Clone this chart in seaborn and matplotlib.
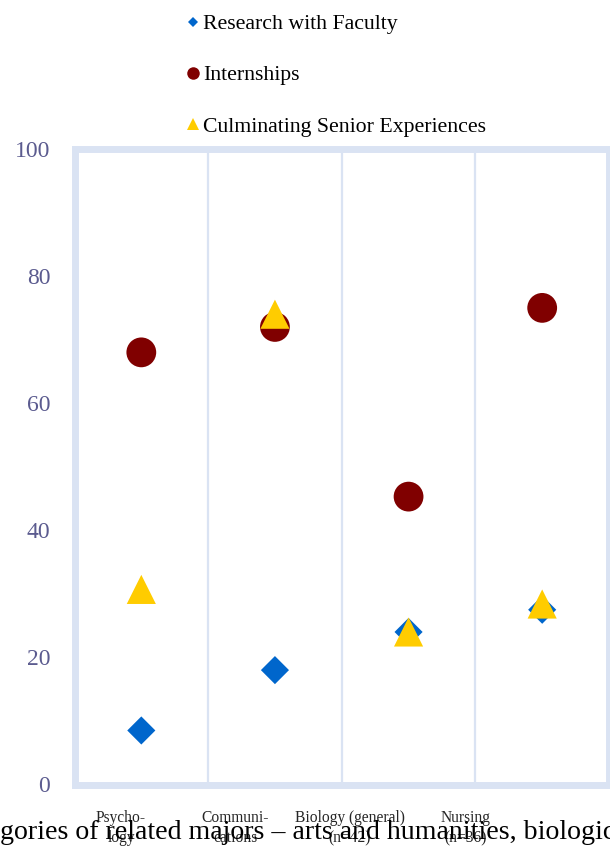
import matplotlib
matplotlib.use("Agg")
import matplotlib.pyplot as plt
from matplotlib.lines import Line2D
import seaborn as sns
import pandas as pd

# Share of students (%) taking part in each experience, by major
majors = ["Psycho-\nlogy", "Communi-\ncations", "Biology (general)\n(n=42)", "Nursing\n(n=36)"]
research = [8.5, 18, 24, 27.5]
internships = [68, 72, 45.3, 75]
senior = [30.7, 74, 24, 28.4]
series_names = ["Research with Faculty", "Internships", "Culminating Senior Experiences"]
y_ticks = [0, 20, 40, 60, 80, 100]

sns.set_theme(style="white")
plt.rcParams["font.family"] = ["Liberation Serif", "DejaVu Serif"]

frame_col = "#dae3f3"
colors = ["#0066cc", "#800000", "#ffcc00"]
markers = ["D", "o", "^"]
sizes = [205, 460, 440]

fig = plt.figure(figsize=(6.10, 8.48), dpi=100)
ax = fig.add_axes([74.5 / 610, (848 - 784.5) / 848, (609 - 74.5) / 610, (784.5 - 149) / 848])

df = pd.DataFrame({"major": majors * 3,
                   "value": research + internships + senior,
                   "series": [s for s in series_names for _ in majors]})

for name, col, mk, sz in zip(series_names, colors, markers, sizes):
    sub = df[df["series"] == name]
    sns.scatterplot(data=sub, x="major", y="value", color=col, marker=mk, s=sz,
                    edgecolor="none", linewidth=0, ax=ax, zorder=3, legend=False)

ax.set_xlim(-0.5, len(majors) - 0.5)
ax.set_ylim(0, 100)
ax.set_xlabel("")
ax.set_ylabel("")

# category separators
for b in [0.5, 1.5, 2.5]:
    ax.axvline(b, color=frame_col, lw=1.6, zorder=1)

for sp in ax.spines.values():
    sp.set_visible(True)
    sp.set_color(frame_col)
    sp.set_linewidth(5.0)
    sp.set_clip_on(False)

ax.set_yticks(y_ticks)
ax.set_yticklabels([str(v) for v in y_ticks])
ax.tick_params(axis="y", length=0, pad=17.5, labelsize=17, labelcolor="#5b5b8f")

# category labels
label_pos = [-0.152, 0.701, 1.562, 2.423]
ax.set_xticks(label_pos)
ax.set_xticklabels(majors, linespacing=1.35)
ax.tick_params(axis="x", length=0, pad=18.5, labelsize=11.2, labelcolor="#262626")

handles = [Line2D([], [], linestyle="none", marker="D", markersize=5.6, color=colors[0], markeredgewidth=0),
           Line2D([], [], linestyle="none", marker="o", markersize=9.0, color=colors[1], markeredgewidth=0),
           Line2D([], [], linestyle="none", marker="^", markersize=9.2, color=colors[2], markeredgewidth=0)]
fig.legend(handles, series_names, loc="upper left", bbox_to_anchor=(186 / 610, 1 - 14 / 848),
           frameon=False, fontsize=15.7, labelspacing=1.42, handlelength=0.65, handletextpad=0.15,
           borderpad=0, borderaxespad=0, labelcolor="black")

fig.text(0.0, 1 - 839 / 848, "gories of related majors – arts and humanities, biologic",
         fontsize=20.1, color="black", ha="left", va="baseline")

fig.savefig("out.png", dpi=100)
